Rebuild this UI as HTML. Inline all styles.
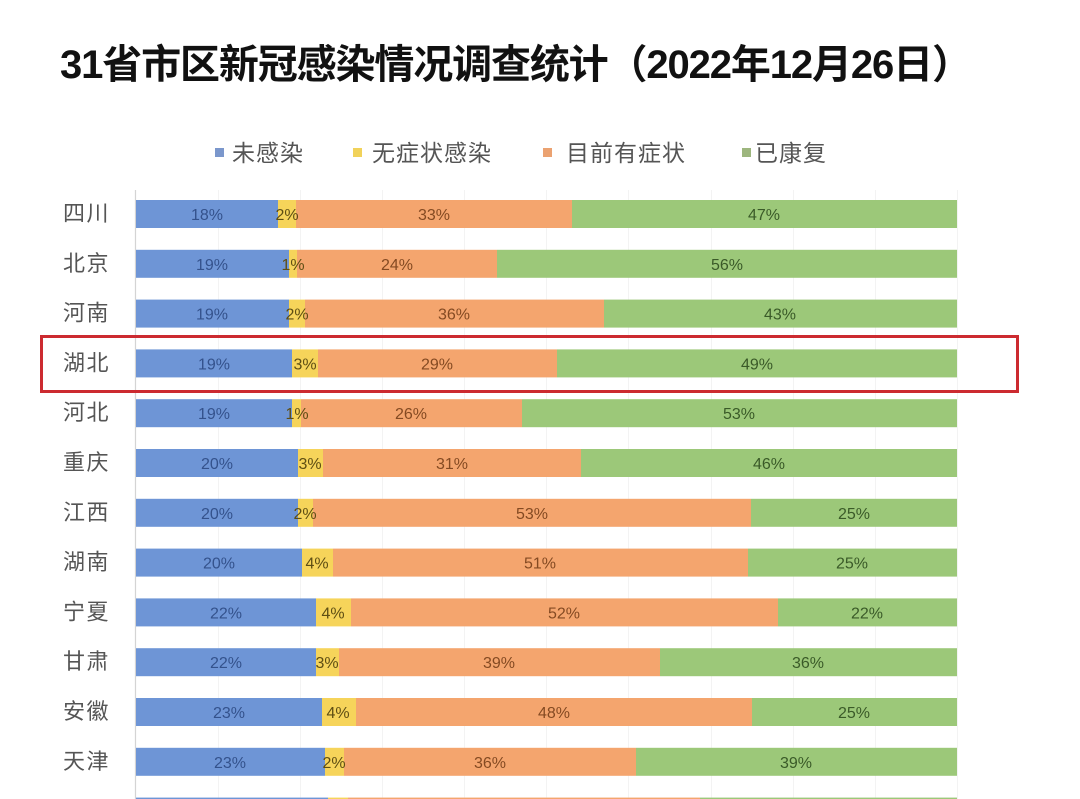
<!DOCTYPE html>
<html>
<head>
<meta charset="utf-8">
<style>
html,body{margin:0;padding:0;background:#fff;}
body{width:1080px;height:799px;overflow:hidden;}
svg{display:block;}
.cat{font-family:"Liberation Sans","Noto Sans CJK SC",sans-serif;font-size:22px;fill:#555;letter-spacing:1.5px;}
.lg{font-family:"Liberation Sans","Noto Sans CJK SC",sans-serif;font-size:23px;fill:#555;letter-spacing:1px;}
.pl{font-family:"Liberation Sans","Noto Sans CJK SC",sans-serif;font-size:16px;text-anchor:middle;}
.tb{fill:#34528c;} .ty{fill:#5e4e14;} .to{fill:#844a22;} .tg{fill:#3a5a28;}
</style>
</head>
<body>
<svg width="1080" height="799" viewBox="0 0 1080 799" xmlns="http://www.w3.org/2000/svg">
<rect x="0" y="0" width="1080" height="799" fill="#ffffff"/>

<!-- Title -->
<text x="60" y="78" textLength="912" lengthAdjust="spacing" font-family="'Liberation Sans','Noto Sans CJK SC',sans-serif" font-size="40" font-weight="bold" fill="#111">31省市区新冠感染情况调查统计（2022年12月26日）</text>

<!-- Legend -->
<rect x="215" y="148" width="9" height="9" fill="#7b97cc"/>
<text class="lg" x="232" y="161">未感染</text>
<rect x="353" y="148" width="9" height="9" fill="#f1d25a"/>
<text class="lg" x="372" y="161">无症状感染</text>
<rect x="543" y="148" width="9" height="9" fill="#eba271"/>
<text class="lg" x="566" y="161">目前有症状</text>
<rect x="742" y="148" width="9" height="9" fill="#9db67e"/>
<text class="lg" x="755" y="161">已康复</text>

<!-- faint gridlines -->
<g stroke="#f3f3f3" stroke-width="1">
<line x1="218.5" y1="190" x2="218.5" y2="799"/>
<line x1="300.5" y1="190" x2="300.5" y2="799"/>
<line x1="382.5" y1="190" x2="382.5" y2="799"/>
<line x1="464.5" y1="190" x2="464.5" y2="799"/>
<line x1="546.5" y1="190" x2="546.5" y2="799"/>
<line x1="628.5" y1="190" x2="628.5" y2="799"/>
<line x1="711.5" y1="190" x2="711.5" y2="799"/>
<line x1="793.5" y1="190" x2="793.5" y2="799"/>
<line x1="875.5" y1="190" x2="875.5" y2="799"/>
<line x1="957.5" y1="190" x2="957.5" y2="799"/>
</g>
<!-- axis -->
<line x1="135.5" y1="190" x2="135.5" y2="799" stroke="#d4d4d4" stroke-width="1.2"/>

<!-- Row 0 四川 y=200 -->
<g>
<text class="cat" x="63" y="221">四川</text>
<rect x="136" y="200" width="142" height="28" fill="#6e95d6"/>
<rect x="278" y="200" width="18" height="28" fill="#f6d45a"/>
<rect x="296" y="200" width="276" height="28" fill="#f4a56e"/>
<rect x="572" y="200" width="385" height="28" fill="#9cc879"/>
<text class="pl tb" x="207" y="220">18%</text>
<text class="pl ty" x="287" y="220">2%</text>
<text class="pl to" x="434" y="220">33%</text>
<text class="pl tg" x="764" y="220">47%</text>
</g>

<!-- Row 1 北京 y=249.8 -->
<g>
<text class="cat" x="63" y="270.8">北京</text>
<rect x="136" y="249.8" width="153" height="28" fill="#6e95d6"/>
<rect x="289" y="249.8" width="8" height="28" fill="#f6d45a"/>
<rect x="297" y="249.8" width="200" height="28" fill="#f4a56e"/>
<rect x="497" y="249.8" width="460" height="28" fill="#9cc879"/>
<text class="pl tb" x="212" y="269.8">19%</text>
<text class="pl ty" x="293" y="269.8">1%</text>
<text class="pl to" x="397" y="269.8">24%</text>
<text class="pl tg" x="727" y="269.8">56%</text>
</g>

<!-- Row 2 河南 y=299.6 -->
<g>
<text class="cat" x="63" y="320.6">河南</text>
<rect x="136" y="299.6" width="153" height="28" fill="#6e95d6"/>
<rect x="289" y="299.6" width="16" height="28" fill="#f6d45a"/>
<rect x="305" y="299.6" width="299" height="28" fill="#f4a56e"/>
<rect x="604" y="299.6" width="353" height="28" fill="#9cc879"/>
<text class="pl tb" x="212" y="319.6">19%</text>
<text class="pl ty" x="297" y="319.6">2%</text>
<text class="pl to" x="454" y="319.6">36%</text>
<text class="pl tg" x="780" y="319.6">43%</text>
</g>

<!-- Row 3 湖北 y=349.4 -->
<g>
<text class="cat" x="63" y="370.4">湖北</text>
<rect x="136" y="349.4" width="156" height="28" fill="#6e95d6"/>
<rect x="292" y="349.4" width="26" height="28" fill="#f6d45a"/>
<rect x="318" y="349.4" width="239" height="28" fill="#f4a56e"/>
<rect x="557" y="349.4" width="400" height="28" fill="#9cc879"/>
<text class="pl tb" x="214" y="369.4">19%</text>
<text class="pl ty" x="305" y="369.4">3%</text>
<text class="pl to" x="437" y="369.4">29%</text>
<text class="pl tg" x="757" y="369.4">49%</text>
</g>

<!-- Row 4 河北 y=399.2 -->
<g>
<text class="cat" x="63" y="420.2">河北</text>
<rect x="136" y="399.2" width="156" height="28" fill="#6e95d6"/>
<rect x="292" y="399.2" width="9" height="28" fill="#f6d45a"/>
<rect x="301" y="399.2" width="221" height="28" fill="#f4a56e"/>
<rect x="522" y="399.2" width="435" height="28" fill="#9cc879"/>
<text class="pl tb" x="214" y="419.2">19%</text>
<text class="pl ty" x="297" y="419.2">1%</text>
<text class="pl to" x="411" y="419.2">26%</text>
<text class="pl tg" x="739" y="419.2">53%</text>
</g>

<!-- Row 5 重庆 y=449 -->
<g>
<text class="cat" x="63" y="470">重庆</text>
<rect x="136" y="449" width="162" height="28" fill="#6e95d6"/>
<rect x="298" y="449" width="25" height="28" fill="#f6d45a"/>
<rect x="323" y="449" width="258" height="28" fill="#f4a56e"/>
<rect x="581" y="449" width="376" height="28" fill="#9cc879"/>
<text class="pl tb" x="217" y="469">20%</text>
<text class="pl ty" x="310" y="469">3%</text>
<text class="pl to" x="452" y="469">31%</text>
<text class="pl tg" x="769" y="469">46%</text>
</g>

<!-- Row 6 江西 y=498.8 -->
<g>
<text class="cat" x="63" y="519.8">江西</text>
<rect x="136" y="498.8" width="162" height="28" fill="#6e95d6"/>
<rect x="298" y="498.8" width="15" height="28" fill="#f6d45a"/>
<rect x="313" y="498.8" width="438" height="28" fill="#f4a56e"/>
<rect x="751" y="498.8" width="206" height="28" fill="#9cc879"/>
<text class="pl tb" x="217" y="518.8">20%</text>
<text class="pl ty" x="305" y="518.8">2%</text>
<text class="pl to" x="532" y="518.8">53%</text>
<text class="pl tg" x="854" y="518.8">25%</text>
</g>

<!-- Row 7 湖南 y=548.6 -->
<g>
<text class="cat" x="63" y="569.6">湖南</text>
<rect x="136" y="548.6" width="166" height="28" fill="#6e95d6"/>
<rect x="302" y="548.6" width="31" height="28" fill="#f6d45a"/>
<rect x="333" y="548.6" width="415" height="28" fill="#f4a56e"/>
<rect x="748" y="548.6" width="209" height="28" fill="#9cc879"/>
<text class="pl tb" x="219" y="568.6">20%</text>
<text class="pl ty" x="317" y="568.6">4%</text>
<text class="pl to" x="540" y="568.6">51%</text>
<text class="pl tg" x="852" y="568.6">25%</text>
</g>

<!-- Row 8 宁夏 y=598.4 -->
<g>
<text class="cat" x="63" y="619.4">宁夏</text>
<rect x="136" y="598.4" width="180" height="28" fill="#6e95d6"/>
<rect x="316" y="598.4" width="35" height="28" fill="#f6d45a"/>
<rect x="351" y="598.4" width="427" height="28" fill="#f4a56e"/>
<rect x="778" y="598.4" width="179" height="28" fill="#9cc879"/>
<text class="pl tb" x="226" y="618.4">22%</text>
<text class="pl ty" x="333" y="618.4">4%</text>
<text class="pl to" x="564" y="618.4">52%</text>
<text class="pl tg" x="867" y="618.4">22%</text>
</g>

<!-- Row 9 甘肃 y=648.2 -->
<g>
<text class="cat" x="63" y="669.2">甘肃</text>
<rect x="136" y="648.2" width="180" height="28" fill="#6e95d6"/>
<rect x="316" y="648.2" width="23" height="28" fill="#f6d45a"/>
<rect x="339" y="648.2" width="321" height="28" fill="#f4a56e"/>
<rect x="660" y="648.2" width="297" height="28" fill="#9cc879"/>
<text class="pl tb" x="226" y="668.2">22%</text>
<text class="pl ty" x="327" y="668.2">3%</text>
<text class="pl to" x="499" y="668.2">39%</text>
<text class="pl tg" x="808" y="668.2">36%</text>
</g>

<!-- Row 10 安徽 y=698 -->
<g>
<text class="cat" x="63" y="719">安徽</text>
<rect x="136" y="698" width="186" height="28" fill="#6e95d6"/>
<rect x="322" y="698" width="34" height="28" fill="#f6d45a"/>
<rect x="356" y="698" width="396" height="28" fill="#f4a56e"/>
<rect x="752" y="698" width="205" height="28" fill="#9cc879"/>
<text class="pl tb" x="229" y="718">23%</text>
<text class="pl ty" x="338" y="718">4%</text>
<text class="pl to" x="554" y="718">48%</text>
<text class="pl tg" x="854" y="718">25%</text>
</g>

<!-- Row 11 天津 y=747.8 -->
<g>
<text class="cat" x="63" y="768.8">天津</text>
<rect x="136" y="747.8" width="189" height="28" fill="#6e95d6"/>
<rect x="325" y="747.8" width="19" height="28" fill="#f6d45a"/>
<rect x="344" y="747.8" width="292" height="28" fill="#f4a56e"/>
<rect x="636" y="747.8" width="321" height="28" fill="#9cc879"/>
<text class="pl tb" x="230" y="767.8">23%</text>
<text class="pl ty" x="334" y="767.8">2%</text>
<text class="pl to" x="490" y="767.8">36%</text>
<text class="pl tg" x="796" y="767.8">39%</text>
</g>

<!-- Row 12 partial y=797.6 -->
<g>
<rect x="136" y="797.6" width="192" height="28" fill="#6e95d6"/>
<rect x="328" y="797.6" width="20" height="28" fill="#f6d45a"/>
<rect x="348" y="797.6" width="352" height="28" fill="#f4a56e"/>
<rect x="700" y="797.6" width="257" height="28" fill="#9cc879"/>
</g>

<!-- Red highlight box -->
<rect x="41.5" y="336.5" width="976" height="55" fill="none" stroke="#cc2a30" stroke-width="3"/>
</svg>
</body>
</html>
